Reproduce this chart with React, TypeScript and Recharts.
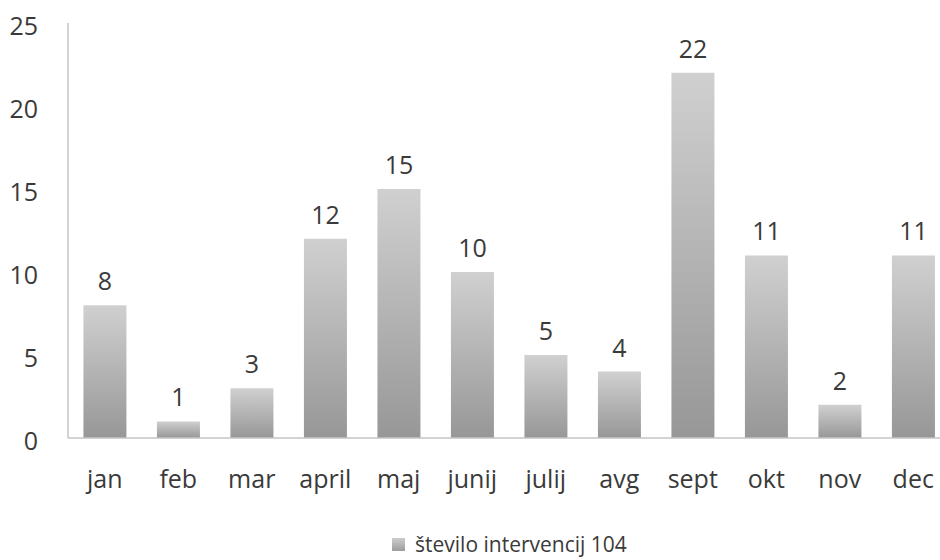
import React from "react";
import { BarChart, Bar, XAxis, YAxis, LabelList } from "recharts";

const months = ["jan", "feb", "mar", "april", "maj", "junij", "julij", "avg", "sept", "okt", "nov", "dec"];
const interventions = [8, 1, 3, 12, 15, 10, 5, 4, 22, 11, 2, 11];
const yTicks = [0, 5, 10, 15, 20, 25];
const seriesName = "število intervencij 104";

const data = months.map((m, i) => ({ month: m, value: interventions[i] }));

const FONT = "'Open Sans', 'Liberation Sans', sans-serif";
const TEXT = "#3a3a3a";
const AXIS = "#c4c4c4";
const LABEL_SIZE = 25;

export default function App() {
  return (
    <div style={{ position: "absolute", left: 0, top: 0, width: 940, height: 560, overflow: "hidden", background: "#fff" }}>
      <BarChart
        width={960}
        height={560}
        data={data}
        margin={{ top: 23, right: 10, bottom: 0, left: 0 }}
        barCategoryGap="21%"
      >
        <defs>
          <linearGradient id="barFill" x1="0" y1="0" x2="0" y2="1">
            <stop offset="0%" stopColor="#d0d0d0" />
            <stop offset="100%" stopColor="#979797" />
          </linearGradient>
        </defs>
        <XAxis
          dataKey="month"
          height={122}
          tickLine={false}
          axisLine={{ stroke: AXIS, strokeWidth: 1.5 }}
          tickSize={0}
          tickMargin={32}
          tick={{ fill: TEXT, fontSize: LABEL_SIZE, fontFamily: FONT }}
          interval={0}
        />
        <YAxis
          width={68}
          domain={[0, 25]}
          ticks={yTicks}
          tickLine={false}
          axisLine={{ stroke: AXIS, strokeWidth: 1.5 }}
          tickSize={0}
          tickMargin={30}
          tick={{ fill: TEXT, fontSize: LABEL_SIZE, fontFamily: FONT, dy: 3 }}
        />
        <Bar dataKey="value" name={seriesName} fill="url(#barFill)" isAnimationActive={false}>
          <LabelList
            dataKey="value"
            position="top"
            offset={15}
            style={{ fill: TEXT, fontSize: LABEL_SIZE, fontFamily: FONT }}
          />
        </Bar>
      </BarChart>
      {/* series legend below the plot */}
      <div
        style={{
          position: "absolute",
          left: 392,
          top: 530,
          display: "flex",
          alignItems: "center",
          fontFamily: FONT,
          fontSize: 21,
          lineHeight: "28px",
          color: TEXT,
          whiteSpace: "nowrap",
        }}
      >
        <span
          style={{
            display: "inline-block",
            width: 13,
            height: 13,
            marginRight: 10,
            background: "linear-gradient(#cdcdcd, #9c9c9c)",
          }}
        />
        <span>{seriesName}</span>
      </div>
    </div>
  );
}
